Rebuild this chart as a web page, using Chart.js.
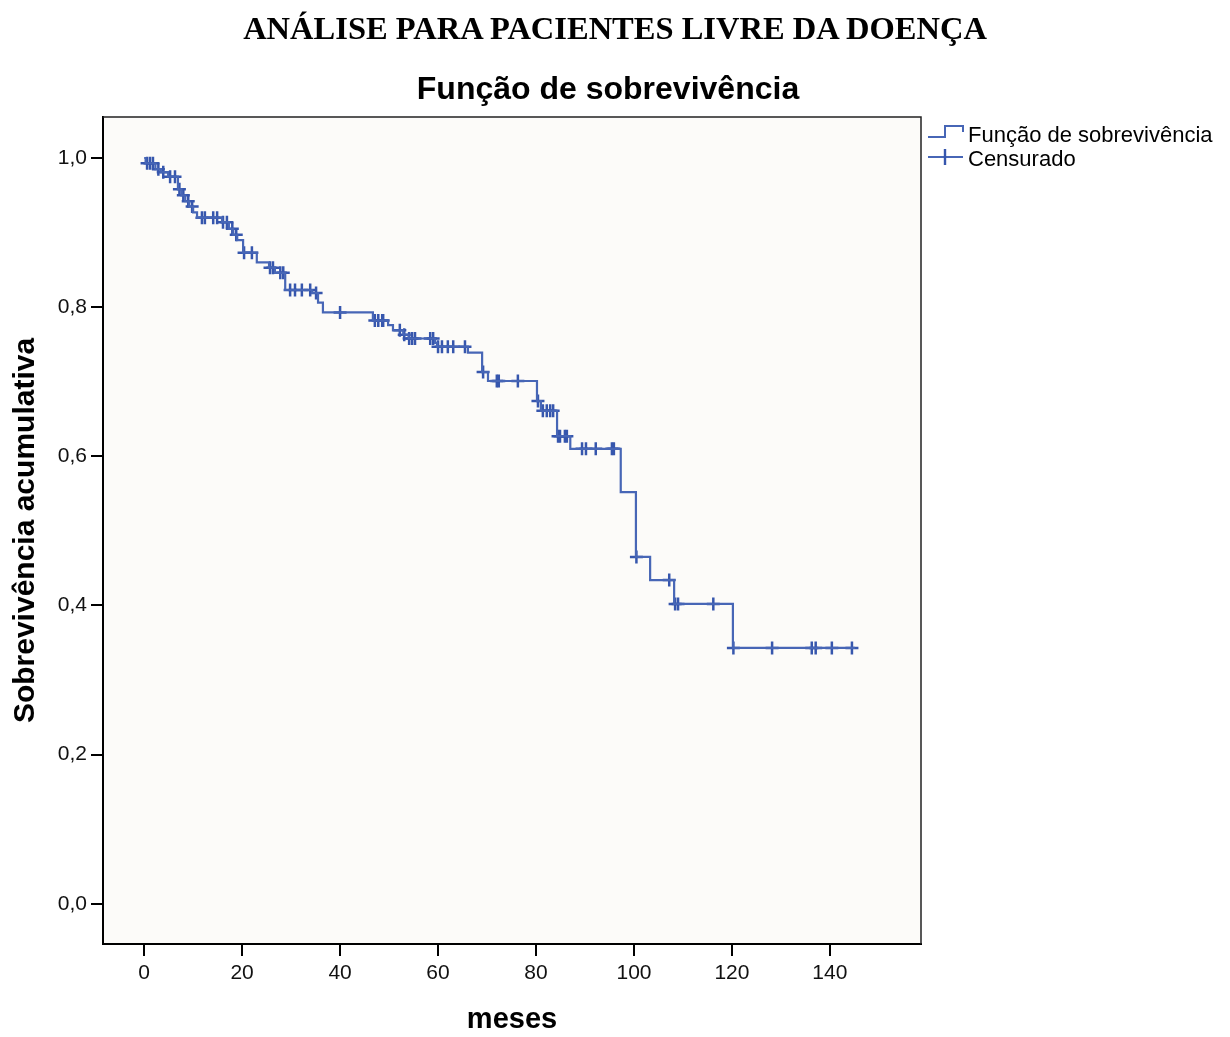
<!DOCTYPE html>
<html lang="pt">
<head>
<meta charset="utf-8">
<script src="https://cdn.jsdelivr.net/npm/chart.js@4.4.1/dist/chart.umd.min.js"></script>
<style>
  html, body { margin: 0; padding: 0; background: #fff; }
  #wrap { position: relative; width: 1230px; height: 1037px; }
  h1 {
    position: absolute; left: 0; top: 0; z-index: 1; width: 1230px; margin: 0;
    text-align: center; color: #000;
    font: bold 32.5px "Liberation Serif", "Times New Roman", serif; line-height: 56px;
  }
  canvas { position: absolute; left: 0; top: 0; }
</style>
</head>
<body>
<div id="wrap">
  <h1>ANÁLISE PARA PACIENTES LIVRE DA DOENÇA</h1>
  <canvas id="km" width="1230" height="1037"></canvas>
</div>
<script>
// Kaplan-Meier estimate: months at which the curve steps, and survival after each step
const eventMonths = [0, 0.3, 2.3, 3.4, 4.9, 6.9, 7.6, 8.4, 9.2, 10.0, 10.8, 15.9, 17.3, 18.2, 19.0,
  20.2, 23.0, 25.5, 26.7, 28.8, 34.3, 35.5, 36.5, 46.7, 49.8, 50.8, 52.9, 54.0, 59.4, 59.8,
  66.1, 69.0, 70.2, 80.2, 81.0, 84.3, 87.0, 97.3, 100.4, 103.3, 108.2, 120.2, 145.1];
const survivalAfter = [1.0, 0.993, 0.985, 0.981, 0.975, 0.958, 0.950, 0.942, 0.935, 0.927, 0.920, 0.914, 0.905, 0.897, 0.890,
  0.873, 0.860, 0.853, 0.846, 0.823, 0.819, 0.806, 0.793, 0.782, 0.776, 0.769, 0.763, 0.758, 0.752, 0.747,
  0.739, 0.713, 0.701, 0.674, 0.661, 0.627, 0.610, 0.552, 0.465, 0.434, 0.402, 0.343, 0.343];

// Censored follow-up times (months)
const censoredMonths = [0.6, 1.2, 1.8, 2.9, 3.9, 5.3, 6.3, 7.2, 8.0, 9.0, 9.8, 11.8, 12.4, 14.1, 14.9,
  16.1, 16.9, 18.0, 18.8, 20.4, 22.0, 25.7, 26.3, 27.8, 28.4, 29.8, 30.8, 32.2, 33.9, 35.1, 40.0,
  47.1, 47.8, 48.6, 48.8, 52.2, 53.1, 54.1, 54.7, 55.3, 58.4, 59.0, 60.0, 60.8, 62.0, 63.1, 65.5,
  69.2, 72.0, 72.4, 76.3, 80.4, 81.4, 82.2, 82.9, 83.5, 84.5, 84.9, 85.9, 86.3, 89.4, 90.2, 92.2,
  95.5, 95.9, 100.5, 107.2, 108.4, 109.0, 116.2, 120.3, 128.2, 136.3, 137.1, 140.4, 144.5];

const xTicks = [0, 20, 40, 60, 80, 100, 120, 140];
const yTicks = [0, 0.2, 0.4, 0.6, 0.8, 1.0];

const chartTitle = 'Função de sobrevivência';
const legendLabels = ['Função de sobrevivência', 'Censurado'];
const xAxisTitle = 'meses';
const yAxisTitle = 'Sobrevivência acumulativa';

const LINE_COLOR = '#4766b6';
const MARK_COLOR = '#3656ad';
const SANS = '"Liberation Sans", Arial, sans-serif';

// survival level of the step function at time t
function survivalAt(t) {
  let s = survivalAfter[0];
  for (let i = 0; i < eventMonths.length; i++) {
    if (eventMonths[i] <= t) s = survivalAfter[i];
  }
  return s;
}

const curvePoints = eventMonths.map((m, i) => ({ x: m, y: survivalAfter[i] }));
const censorPoints = censoredMonths.map(m => ({ x: m, y: survivalAt(m) }));

// plot background, frame, chart title and legend
const decorations = {
  id: 'decorations',
  beforeDraw(chart) {
    const { ctx, chartArea: a } = chart;
    ctx.save();
    ctx.fillStyle = '#fcfbf9';
    ctx.fillRect(a.left, a.top, a.right - a.left, a.bottom - a.top);
    ctx.restore();
  },
  afterDraw(chart) {
    const { ctx, chartArea: a } = chart;
    ctx.save();
    // top and right edges of the frame
    ctx.strokeStyle = '#222';
    ctx.lineWidth = 1.5;
    ctx.beginPath();
    ctx.moveTo(a.left, a.top);
    ctx.lineTo(a.right, a.top);
    ctx.lineTo(a.right, a.bottom);
    ctx.stroke();

    // chart title
    ctx.fillStyle = '#000';
    ctx.font = 'bold 32px ' + SANS;
    ctx.textAlign = 'center';
    ctx.textBaseline = 'middle';
    ctx.fillText(chartTitle, 608, 90);

    // legend
    const lx = a.right + 7;
    ctx.strokeStyle = LINE_COLOR;
    ctx.lineWidth = 2;
    ctx.beginPath();
    ctx.moveTo(lx, 137);
    ctx.lineTo(lx + 17, 137);
    ctx.lineTo(lx + 17, 126);
    ctx.lineTo(lx + 35, 126);
    ctx.lineTo(lx + 35, 132);
    ctx.stroke();

    ctx.beginPath();
    ctx.moveTo(lx, 157);
    ctx.lineTo(lx + 35, 157);
    ctx.stroke();
    ctx.strokeStyle = MARK_COLOR;
    ctx.lineWidth = 2.4;
    ctx.beginPath();
    ctx.moveTo(lx + 17, 149);
    ctx.lineTo(lx + 17, 165);
    ctx.stroke();

    ctx.fillStyle = '#000';
    ctx.font = '22px ' + SANS;
    ctx.textAlign = 'left';
    ctx.textBaseline = 'alphabetic';
    ctx.fillText(legendLabels[0], lx + 40, 142);
    ctx.fillText(legendLabels[1], lx + 40, 166);
    ctx.restore();
  }
};

new Chart(document.getElementById('km'), {
  type: 'scatter',
  data: {
    datasets: [
      {
        label: legendLabels[0],
        data: curvePoints,
        showLine: true,
        stepped: true,
        borderColor: LINE_COLOR,
        borderWidth: 2.2,
        pointRadius: 0,
        fill: false
      },
      {
        label: legendLabels[1],
        data: censorPoints,
        showLine: false,
        pointStyle: 'cross',
        pointRadius: 6.5,
        pointBorderWidth: 2.5,
        pointBorderColor: MARK_COLOR,
        pointBackgroundColor: MARK_COLOR
      }
    ]
  },
  options: {
    responsive: false,
    animation: false,
    events: [],
    layout: { padding: { top: 117, right: 309, bottom: 0, left: 0 } },
    plugins: {
      legend: { display: false },
      title: { display: false },
      tooltip: { enabled: false }
    },
    scales: {
      x: {
        type: 'linear',
        min: -8.4,
        max: 158.6,
        afterBuildTicks(s) { s.ticks = xTicks.map(v => ({ value: v })); },
        afterFit(s) { s.height = 93; },
        grid: { drawOnChartArea: false, drawTicks: true, tickLength: 12, color: '#000', lineWidth: 2 },
        border: { display: true, color: '#000', width: 2 },
        ticks: {
          color: '#111', padding: 5, maxRotation: 0, autoSkip: false,
          font: { family: SANS, size: 21 },
          callback: v => String(v)
        },
        title: {
          display: true, text: xAxisTitle, color: '#000',
          font: { family: SANS, size: 29, weight: 'bold' },
          padding: { top: 0, bottom: 0 }
        }
      },
      y: {
        type: 'linear',
        min: -0.054,
        max: 1.055,
        afterBuildTicks(s) { s.ticks = yTicks.map(v => ({ value: v })); },
        afterFit(s) { s.width = 103; },
        grid: { drawOnChartArea: false, drawTicks: true, tickLength: 12, color: '#000', lineWidth: 2 },
        border: { display: true, color: '#000', width: 2 },
        ticks: {
          color: '#111', padding: 4,
          font: { family: SANS, size: 21 },
          callback: v => v.toFixed(1).replace('.', ',')
        },
        title: {
          display: true, text: yAxisTitle, color: '#000',
          font: { family: SANS, size: 30, weight: 'bold' },
          padding: { top: 8, bottom: 0 }
        }
      }
    }
  },
  plugins: [decorations]
});
</script>
</body>
</html>
